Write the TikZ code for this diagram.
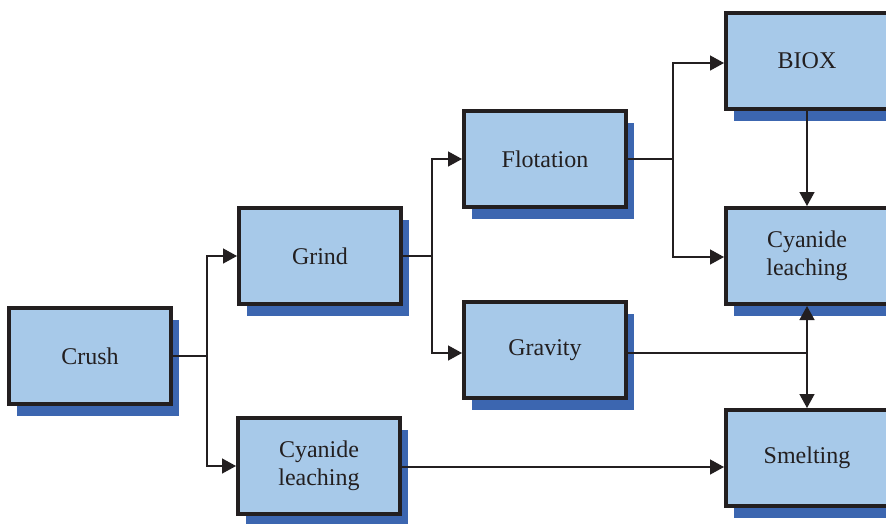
\documentclass[tikz,border=0pt]{standalone}
\usepackage{fontspec}
\setmainfont{Liberation Serif}
\usetikzlibrary{arrows.meta,shadows}
\definecolor{boxfill}{HTML}{A7C9E9}
\definecolor{shadowblue}{HTML}{3C66B0}
\definecolor{ink}{HTML}{231F20}
\tikzset{
  procbox/.style={draw=ink, line width=4pt, fill=boxfill, text=ink,
    minimum width=162pt, minimum height=96pt, inner sep=0pt,
    align=center, font=\fontsize{24}{28}\selectfont,
    general shadow={fill=shadowblue, shadow xshift=8pt, shadow yshift=-12pt}},
  conn/.style={draw=ink, line width=1.4pt},
  arr/.style={conn, -{Triangle[length=14pt,width=15pt]}}
}
\begin{document}
\begin{tikzpicture}[x=1pt,y=-1pt]
\useasboundingbox (0,0) rectangle (886,523);
\clip (0,0) rectangle (886,523);
\fill[white] (0,0) rectangle (886,523);
\node[procbox] (crush) at (90,356) {Crush};
\node[procbox] (grind) at (320,256) {Grind};
\node[procbox] (cyl) at (319,466) {Cyanide\\leaching};
\node[procbox] (flot) at (545,159) {Flotation};
\node[procbox] (grav) at (545,350) {Gravity};
\node[procbox] (biox) at (807,61) {BIOX};
\node[procbox] (cyr) at (807,256) {Cyanide\\leaching};
\node[procbox] (smelt) at (807,458) {Smelting};
\coordinate (j1) at (207,356);
\coordinate (j2) at (432,256);
\coordinate (j3) at (673,159);
\coordinate (j4) at (807,353);
% Crush
\draw[conn] (crush.east |- j1) -- (j1);
\draw[arr] (j1) |- (grind.west);
\draw[arr] (j1) |- (cyl.west);
% Grind
\draw[conn] (grind.east) -- (j2);
\draw[arr] (j2) |- (flot.west);
\draw[arr] (j2) |- (grav.west |- 0,353);
% Flotation
\draw[conn] (flot.east) -- (j3);
\draw[arr] (j3) |- (biox.west |- 0,63);
\draw[arr] (j3) |- (cyr.west |- 0,257);
% BIOX to cyanide
\draw[arr] (biox.south) -- (cyr.north);
% Gravity
\draw[conn] (grav.east |- j4) -- (j4);
\draw[arr] (j4) -- (cyr.south);
\draw[arr] (j4) -- (smelt.north);
% Cyanide leaching to smelting
\draw[arr] (cyl.east |- 0,467) -- (smelt.west |- 0,467);
\end{tikzpicture}
\end{document}
